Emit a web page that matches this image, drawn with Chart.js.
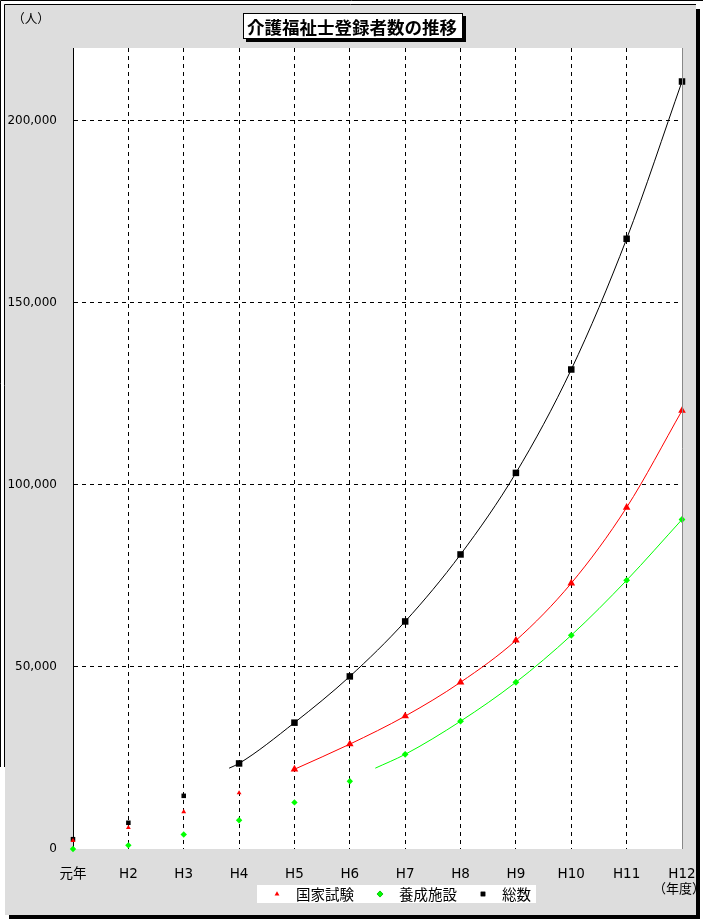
<!DOCTYPE html>
<html lang="ja">
<head>
<meta charset="utf-8">
<title>介護福祉士登録者数の推移</title>
<script src="https://cdn.jsdelivr.net/npm/chart.js@4.4.1/dist/chart.umd.min.js"></script>
<style>
  html, body { margin: 0; padding: 0; background: #fff; }
  #wrap { width: 704px; height: 922px; position: relative; }
</style>
</head>
<body>
<div id="wrap"><canvas id="careChart"></canvas></div>
<script>
// categories (fiscal years)
const years = ['元年', 'H2', 'H3', 'H4', 'H5', 'H6', 'H7', 'H8', 'H9', 'H10', 'H11', 'H12'];
// registered persons
const examData = [2300, 5850, 10200, 15400, 21900, 28800, 36500, 45800, 57300, 73000, 93800, 120400];
const schoolData = [0, 1000, 4000, 7900, 12800, 18600, 26000, 35100, 45800, 58700, 73800, 90500];
const totalData = [2700, 7200, 14600, 23500, 34700, 47400, 62500, 80900, 103300, 131700, 167600, 210800];
// where each trend line begins (category position, value)
const totalTrendStart = { x: 2.82, y: 22200 };
const schoolTrendStart = { x: 5.46, y: 22200 };
const yTicks = [0, 50000, 100000, 150000, 200000];

const FONT = "'DejaVu Sans', 'Noto Sans CJK JP', sans-serif";
const CJK = "'Noto Sans CJK JP', 'DejaVu Sans', sans-serif";
Chart.defaults.font.family = FONT;
Chart.defaults.color = '#000';

const toPts = (arr, from) => arr.map((v, i) => ({ x: i, y: v })).slice(from);

// frame, title box, unit labels and legend
const framePlugin = {
    id: 'frame',
    beforeDraw(chart) {
        const ctx = chart.ctx;
        const a = chart.chartArea;
        ctx.save();
        ctx.fillStyle = '#fff';
        ctx.fillRect(0, 0, chart.width, chart.height);
        // outer thin line
        ctx.strokeStyle = '#000';
        ctx.lineWidth = 1;
        ctx.beginPath();
        ctx.moveTo(0.5, 767); ctx.lineTo(0.5, 0.5); ctx.lineTo(703, 0.5);
        ctx.stroke();
        // shadow
        ctx.fillStyle = '#000';
        ctx.fillRect(696, 9, 4, 910);
        ctx.fillRect(9, 915, 691, 4);
        // gray chart area
        ctx.fillStyle = '#dddddd';
        ctx.fillRect(5, 5, 691, 910);
        ctx.beginPath();
        ctx.moveTo(4.5, 767); ctx.lineTo(4.5, 4.5); ctx.lineTo(696, 4.5);
        ctx.stroke();
        // plot area
        ctx.fillStyle = '#fff';
        ctx.fillRect(a.left, a.top, a.right - a.left, a.bottom - a.top);
        ctx.restore();
    },
    afterDraw(chart) {
        const ctx = chart.ctx;
        const a = chart.chartArea;
        ctx.save();
        // right edge of plot area
        ctx.strokeStyle = '#888';
        ctx.lineWidth = 1;
        ctx.beginPath();
        ctx.moveTo(Math.round(a.right) + 0.5, a.top);
        ctx.lineTo(Math.round(a.right) + 0.5, a.bottom);
        ctx.stroke();

        // title box with shadow
        ctx.fillStyle = '#000';
        ctx.fillRect(246, 16, 220, 26);
        ctx.fillStyle = '#fff';
        ctx.fillRect(243, 13, 220, 26);
        ctx.strokeStyle = '#000';
        ctx.strokeRect(243.5, 13.5, 219, 25);
        ctx.fillStyle = '#000';
        ctx.font = 'bold 17.5px ' + CJK;
        ctx.textAlign = 'center';
        ctx.textBaseline = 'middle';
        ctx.fillText('介護福祉士登録者数の推移', 352, 27);

        // unit labels
        ctx.font = '12.5px ' + CJK;
        ctx.fillText('（人）', 31, 18);
        ctx.save();
        ctx.beginPath();
        ctx.rect(0, 0, 697, chart.height);
        ctx.clip();
        ctx.font = '13px ' + CJK;
        ctx.fillText('（年度）', 679, 888);
        ctx.restore();

        // legend
        ctx.fillStyle = '#fff';
        ctx.fillRect(257, 885, 279, 18);
        const items = chart.data.datasets.filter(d => d.legend);
        const xs = [277, 380, 483];
        items.forEach((d, i) => {
            Chart.helpers.drawPoint(ctx, {
                pointStyle: d.pointStyle, radius: d.legendRadius, borderWidth: 0, rotation: 0
            }, xs[i], 894);
            ctx.fillStyle = d.backgroundColor;
            ctx.fill();
            ctx.fillStyle = '#000';
            ctx.font = '14.5px ' + CJK;
            ctx.textAlign = 'left';
            ctx.textBaseline = 'middle';
            ctx.fillText(d.label, xs[i] + 19, 894);
        });
        ctx.restore();
    }
};

const markerSet = (label, data, style, color, rSmall, rBig, from) => ({
    type: 'scatter',
    label: label,
    legend: true,
    legendRadius: rSmall,
    data: toPts(data, 0),
    pointStyle: style,
    backgroundColor: color,
    borderColor: color,
    pointBorderWidth: 0,
    pointRadius: ctx => (ctx.dataIndex >= from ? rBig : rSmall),
    showLine: false,
    clip: false,
    order: 0
});

const trendSet = (data, color) => ({
    type: 'line',
    label: '',
    data: data,
    borderColor: color,
    borderWidth: 1,
    pointRadius: 0,
    fill: false,
    cubicInterpolationMode: 'monotone',
    order: 1
});

new Chart(document.getElementById('careChart'), {
    data: {
        datasets: [
            markerSet('国家試験', examData, 'triangle', '#ff0000', 2.8, 4.4, 4),
            markerSet('養成施設', schoolData, 'rectRot', '#00ff00', 3.2, 3.4, 6),
            markerSet('総数', totalData, 'rect', '#000000', 3.2, 4.6, 3),
            trendSet([totalTrendStart].concat(toPts(totalData, 3)), '#000000'),
            trendSet(toPts(examData, 4), '#ff0000'),
            trendSet([schoolTrendStart].concat(toPts(schoolData, 6)), '#00ff00')
        ]
    },
    options: {
        responsive: true,
        maintainAspectRatio: false,
        animation: false,
        layout: { padding: { top: 48, right: 22, left: 0, bottom: 0 } },
        plugins: {
            legend: { display: false },
            tooltip: { enabled: false }
        },
        scales: {
            x: {
                type: 'linear',
                min: 0,
                max: years.length - 1,
                afterFit: s => { s.height = 73; s.paddingLeft = 0; s.paddingRight = 0; },
                afterBuildTicks: s => { s.ticks = years.map((_, i) => ({ value: i })); },
                ticks: {
                    autoSkip: false,
                    maxRotation: 0,
                    padding: 17,
                    font: { size: 13.5 },
                    callback: v => years[v]
                },
                grid: {
                    drawTicks: false,
                    color: c => (c.tick && c.tick.value > 0 && c.tick.value < years.length - 1 ? '#000' : 'rgba(0,0,0,0)')
                },
                border: { display: false, dash: [4, 4] }
            },
            y: {
                min: 0,
                max: 220000,
                afterFit: s => { s.width = 73; s.paddingTop = 0; s.paddingBottom = 0; },
                afterBuildTicks: s => { s.ticks = yTicks.map(v => ({ value: v })); },
                ticks: {
                    padding: 16,
                    font: { size: 12 },
                    callback: v => v.toLocaleString('en-US')
                },
                grid: {
                    drawTicks: false,
                    color: c => (c.tick && c.tick.value > 0 ? '#000' : 'rgba(0,0,0,0)')
                },
                border: { display: true, color: '#000', width: 1, dash: [4, 4] }
            }
        }
    },
    plugins: [framePlugin]
});
</script>
</body>
</html>
